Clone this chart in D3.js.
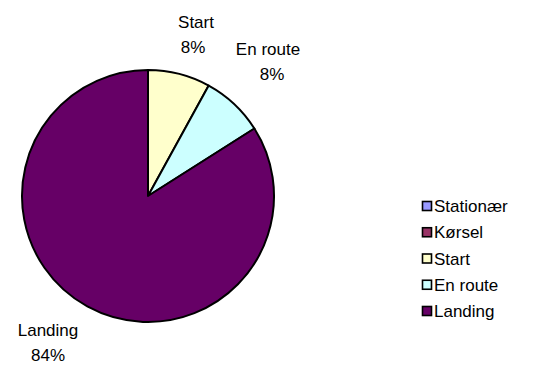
<!DOCTYPE html>
<html>
<head>
<meta charset="utf-8">
<script src="https://cdn.jsdelivr.net/npm/d3@7"></script>
<style>
  html, body { margin: 0; padding: 0; background: #fff; }
  svg { display: block; font-family: "Liberation Sans", Arial, sans-serif; }
</style>
</head>
<body>
<svg id="chart" width="539" height="365"></svg>
<script>
// Phase shares (percent)
const categories = ["Stationær", "Kørsel", "Start", "En route", "Landing"];
const shares = [0, 0, 8, 8, 84];
const colors = ["#9999FF", "#993366", "#FFFFCC", "#CCFFFF", "#660066"];

const svg = d3.select("#chart");
const cx = 148, cy = 196, r = 126;

const pie = d3.pie().sort(null).value(d => d.value);
const arcs = pie(categories.map((c, i) => ({ name: c, value: shares[i], color: colors[i] })));
const arc = d3.arc().innerRadius(0).outerRadius(r);

const g = svg.append("g").attr("transform", `translate(${cx},${cy})`);
g.selectAll("path")
  .data(arcs.filter(a => a.data.value > 0))
  .join("path")
  .attr("d", arc)
  .attr("fill", d => d.data.color)
  .attr("stroke", "#000")
  .attr("stroke-width", 2)
  .attr("stroke-linejoin", "round");

// Outside labels: name + percentage (label centre x, first-line centre y, % offset x)
const labelPos = {
  "Start": [196, 22, -3],
  "En route": [268, 49, 4],
  "Landing": [48, 330, 0]
};
arcs.filter(a => a.data.value > 0).forEach(a => {
  const p = labelPos[a.data.name];
  const t = svg.append("text")
    .attr("text-anchor", "middle")
    .attr("font-size", 17)
    .attr("fill", "#000");
  t.append("tspan").attr("x", p[0]).attr("y", p[1] + 6).text(a.data.name);
  t.append("tspan").attr("x", p[0] + p[2]).attr("y", p[1] + 31)
    .text(d3.format(".0f")(a.data.value) + "%");
});

// Legend
const legend = svg.append("g").attr("transform", "translate(422,0)");
const rowY = d3.scalePoint().domain(categories).range([206, 311]);
const item = legend.selectAll("g").data(categories).join("g")
  .attr("transform", d => `translate(0,${rowY(d)})`);
item.append("rect")
  .attr("x", 0.5).attr("y", -4.5).attr("width", 9).attr("height", 9)
  .attr("fill", (d, i) => colors[i])
  .attr("stroke", "#000").attr("stroke-width", 1.6);
item.append("text")
  .attr("x", 12).attr("y", 6)
  .attr("font-size", 17)
  .text(d => d);
</script>
</body>
</html>
